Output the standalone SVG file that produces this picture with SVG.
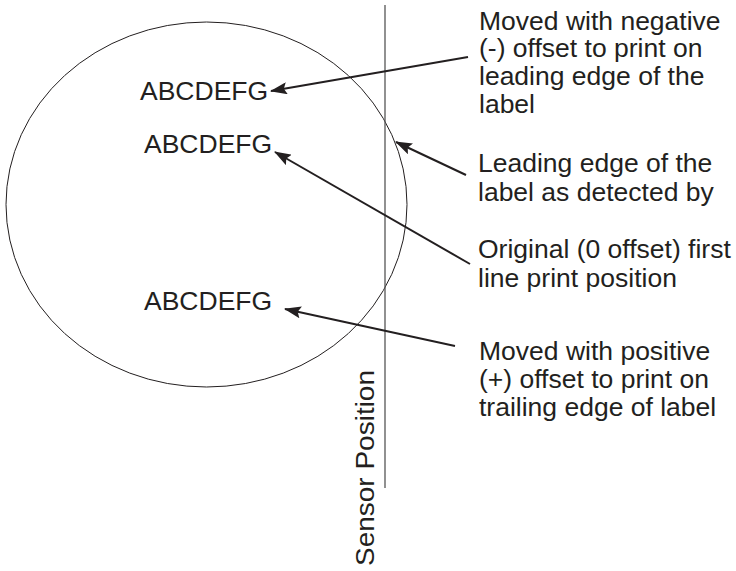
<svg xmlns="http://www.w3.org/2000/svg" width="736" height="571" viewBox="0 0 736 571">
<style>
text{font-family:"Liberation Sans",Arial,Helvetica,sans-serif;fill:#231f20}
.abc{font-size:26.5px}
.lbl{font-size:26.5px}
.conn line{stroke:#231f20;stroke-width:2;fill:none}
</style>
<defs>
<marker id="ah" viewBox="0 0 17 12" refX="16" refY="6" markerWidth="17" markerHeight="12" markerUnits="userSpaceOnUse" orient="auto">
<path d="M0,0 L17,6 L0,12 L3,6 z" fill="#231f20"/>
</marker>
</defs>
<rect width="736" height="571" fill="#fff"/>
<g id="label-circle">
<ellipse cx="206.5" cy="204.5" rx="200.5" ry="182.5" fill="none" stroke="#231f20" stroke-width="1"/>
</g>
<g id="sensor">
<line x1="385" y1="5" x2="385" y2="488" stroke="#555" stroke-width="1.3"/>
<text class="abc" transform="translate(373.5,566) rotate(-90)" textLength="196" lengthAdjust="spacingAndGlyphs">Sensor Position</text>
</g>
<g id="print-neg"><text class="abc" x="140" y="99.5">ABCDEFG</text></g>
<g id="print-orig"><text class="abc" x="144" y="152.5">ABCDEFG</text></g>
<g id="print-pos"><text class="abc" x="144" y="309.5">ABCDEFG</text></g>
<g id="note-neg">
<text class="lbl" x="479" y="29.5">Moved with negative</text>
<text class="lbl" x="479" y="57">(-) offset to print on</text>
<text class="lbl" x="479" y="84.5">leading edge of the</text>
<text class="lbl" x="479" y="112.5">label</text>
</g>
<g id="note-edge">
<text class="lbl" x="478" y="171.5">Leading edge of the</text>
<text class="lbl" x="478" y="201">label as detected by</text>
</g>
<g id="note-orig">
<text class="lbl" x="478" y="257.5">Original (0 offset) first</text>
<text class="lbl" x="478" y="287">line print position</text>
</g>
<g id="note-pos">
<text class="lbl" x="479" y="359.5">Moved with positive</text>
<text class="lbl" x="479" y="387.5">(+) offset to print on</text>
<text class="lbl" x="479" y="416">trailing edge of label</text>
</g>
<g id="connectors" class="conn">
<line x1="468" y1="57" x2="271" y2="91" marker-end="url(#ah)"/>
<line x1="466" y1="175" x2="396" y2="142" marker-end="url(#ah)"/>
<line x1="470" y1="264" x2="275" y2="152" marker-end="url(#ah)"/>
<line x1="455" y1="346" x2="285" y2="309" marker-end="url(#ah)"/>
</g>
</svg>
